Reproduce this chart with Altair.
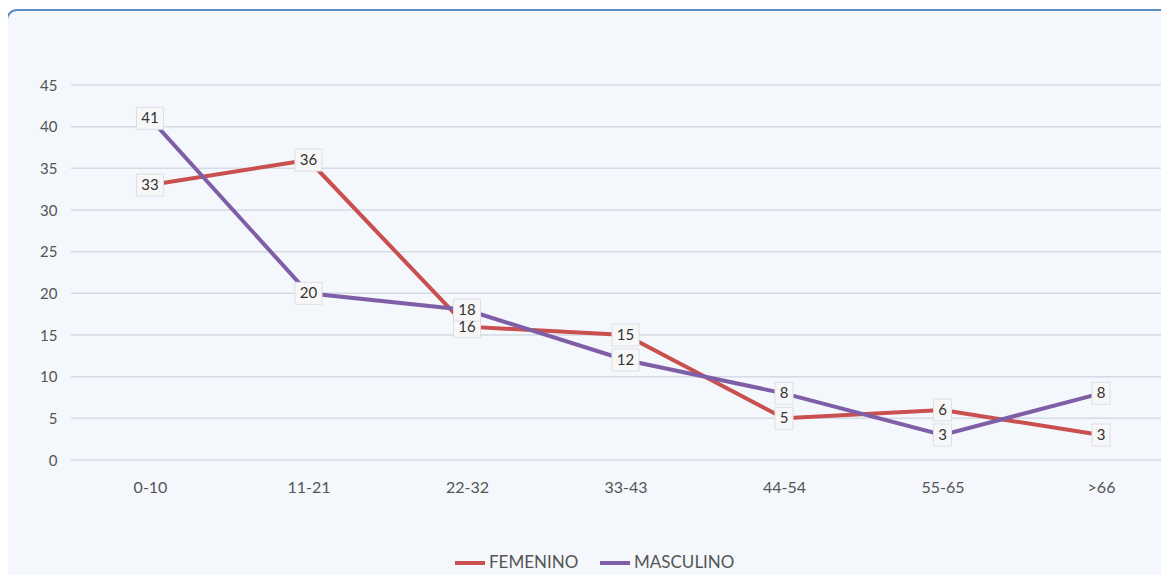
import altair as alt
import pandas as pd

categories = ['0-10', '11-21', '22-32', '33-43', '44-54', '55-65', '>66']
femenino = [33, 36, 16, 15, 5, 6, 3]
masculino = [41, 20, 18, 12, 8, 3, 8]
series_names = ['FEMENINO', 'MASCULINO']
series_colors = ['#c9504e', '#7f5ea8']
y_ticks = [0, 5, 10, 15, 20, 25, 30, 35, 40, 45]

rows = []
for c, v in zip(categories, femenino):
    rows.append({'cat': c, 'val': v, 'serie': 'FEMENINO'})
for c, v in zip(categories, masculino):
    rows.append({'cat': c, 'val': v, 'serie': 'MASCULINO'})
df = pd.DataFrame(rows)

FONT = 'Lato'
x_scale = alt.Scale(type='point', range=[79, 1030], padding=0)
y_scale = alt.Scale(domain=[0, 45], nice=False)

y_axis = alt.Axis(title=None, values=y_ticks, ticks=False, domain=False,
                  labelPadding=14, labelFontSize=15, labelColor='#555555',
                  labelFont=FONT, grid=False, zindex=1)

x_enc = alt.X('cat:O', sort=categories, scale=x_scale,
              axis=alt.Axis(title=None, labelAngle=0, ticks=False, domain=False,
                            labelPadding=19, labelFontSize=16, labelColor='#555555',
                            labelFont=FONT, grid=False, zindex=1))
y_enc = alt.Y('val:Q', scale=y_scale, axis=y_axis)
color_enc = alt.Color('serie:N', scale=alt.Scale(domain=series_names, range=series_colors),
                      legend=alt.Legend(title=None, orient='none', direction='horizontal',
                                        legendX=382, legendY=461,
                                        symbolType='stroke', symbolSize=900,
                                        symbolStrokeWidth=4, labelFontSize=17,
                                        labelFont=FONT, labelColor='#555555',
                                        labelOffset=2, columnPadding=13))

box = alt.Chart(pd.DataFrame({'a': [0]})).mark_rect(
    fill='#f4f7fb', stroke='#5b8bc8', strokeWidth=2, cornerRadius=10
).encode(x=alt.value(-64), x2=alt.value(1250), y=alt.value(-75), y2=alt.value(650))

grid = alt.Chart(pd.DataFrame({'val': y_ticks})).mark_rule(
    color='#d5dae5', strokeWidth=1.5
).encode(y=alt.Y('val:Q', scale=y_scale, axis=y_axis), x=alt.value(0), x2=alt.value(1100))

base = alt.Chart(df)

lines = base.mark_line(strokeWidth=4).encode(x=x_enc, y=y_enc, color=color_enc,
                                             order=alt.Order('serie:N'))

shape_two = 'M-1.23,-1H1.23V1H-1.23Z'
shape_one = 'M-0.82,-1H0.82V1H-0.82Z'

boxes2 = base.transform_filter(alt.datum.val >= 10).mark_point(
    shape=shape_two, size=484, filled=True,
    fill='#f7f7f7', stroke='#dcdfe5', strokeWidth=1, opacity=1).encode(
    x=alt.X('cat:O', sort=categories), y='val:Q')
boxes1 = base.transform_filter(alt.datum.val < 10).mark_point(
    shape=shape_one, size=484, filled=True,
    fill='#f7f7f7', stroke='#dcdfe5', strokeWidth=1, opacity=1).encode(
    x=alt.X('cat:O', sort=categories), y='val:Q')

texts = base.mark_text(fontSize=15, color='#333333', font=FONT, baseline='middle',
                       align='center').encode(
    x=alt.X('cat:O', sort=categories), y='val:Q', text='val:Q')

chart = alt.layer(box, grid, lines, boxes2, boxes1, texts).properties(
    width=1090, height=375,
    autosize=alt.AutoSizeParams(type='none'),
    padding={'left': 63, 'top': 77, 'right': 0, 'bottom': 115},
    background='white'
).configure_view(stroke=None)

chart.save("out.html", embed_options={"renderer": "svg", "actions": False})
